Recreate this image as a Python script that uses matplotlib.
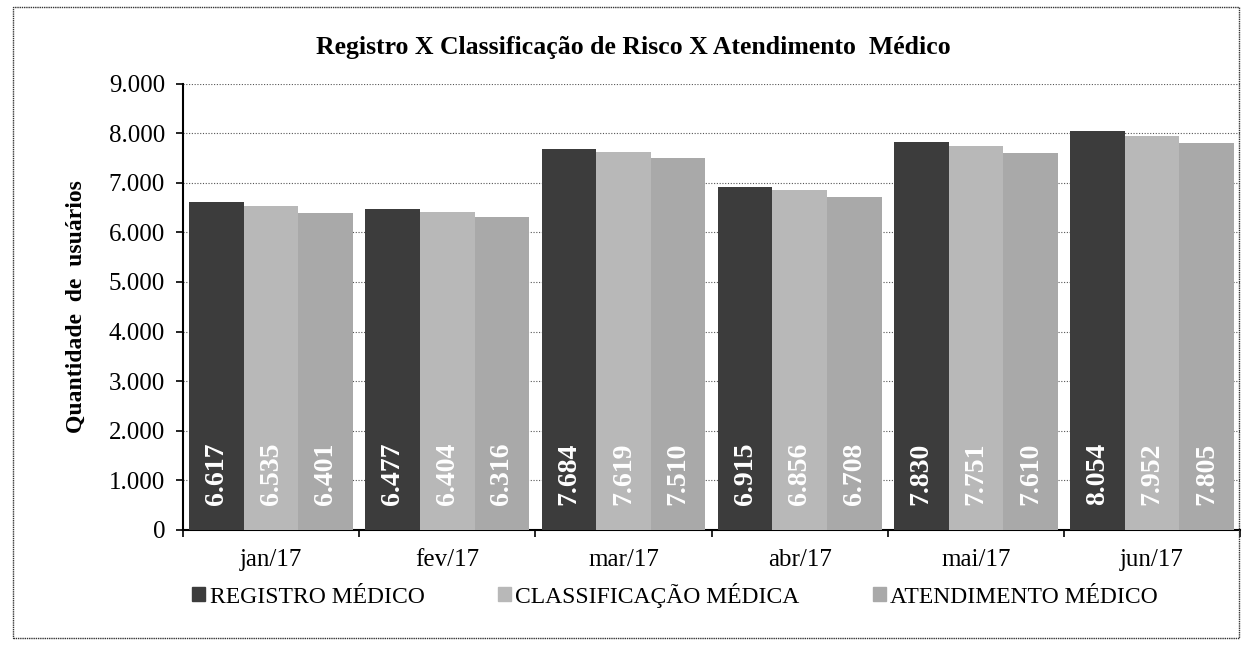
import matplotlib.pyplot as plt
import numpy as np
from matplotlib.patches import Rectangle
from matplotlib.ticker import FuncFormatter, FixedLocator

months = ["jan/17", "fev/17", "mar/17", "abr/17", "mai/17", "jun/17"]
registro = [6617, 6477, 7684, 6915, 7830, 8054]
classificacao = [6535, 6404, 7619, 6856, 7751, 7952]
atendimento = [6401, 6316, 7510, 6708, 7610, 7805]
series_names = ["REGISTRO MÉDICO", "CLASSIFICAÇÃO MÉDICA", "ATENDIMENTO MÉDICO"]

colors = ["#3c3c3c", "#b8b8b8", "#a9a9a9"]

plt.rcParams["font.family"] = ["Liberation Serif", "DejaVu Serif"]


def thousands(v, _pos=None):
    return f"{int(v):,}".replace(",", ".")


fig = plt.figure(figsize=(12.54, 6.54), dpi=100)
fig.patches.append(Rectangle((0.010, 0.024), 0.978, 0.966, transform=fig.transFigure,
                             fill=False, edgecolor="#333333", linewidth=1.0, linestyle=(0, (1, 0.6))))

ax = fig.add_axes([0.146, 0.19, 0.843, 0.682])
x = np.arange(len(months))
width = 0.31
offsets = [-width, 0, width]

for vals, off, col in zip([registro, classificacao, atendimento], offsets, colors):
    bars = ax.bar(x + off, vals, width, color=col, edgecolor="none", zorder=3)
    for b, v in zip(bars, vals):
        ax.text(b.get_x() + b.get_width() / 2, 500, thousands(v), rotation=90,
                ha="center", va="bottom", color="white", fontsize=20,
                fontweight="bold", zorder=4)

ax.set_xlim(-0.5, len(months) - 0.5)
ax.set_ylim(0, 9000)
ax.set_yticks(np.arange(0, 9001, 1000))
ax.yaxis.set_major_formatter(FuncFormatter(thousands))
ax.grid(axis="y", color="#555555", linestyle=(0, (1, 1.5)), linewidth=0.8, zorder=0)

ax.set_xticks(x)
ax.set_xticklabels(months)
ax.xaxis.set_minor_locator(FixedLocator(np.arange(-0.5, len(months), 1)))
ax.tick_params(axis="x", which="major", length=0, pad=14, labelsize=18)
ax.tick_params(axis="x", which="minor", length=5, width=1.2, direction="out")
ax.tick_params(axis="y", length=5, width=1.2, labelsize=18, pad=8)

for side in ["top", "right"]:
    ax.spines[side].set_visible(False)
ax.spines["left"].set_linewidth(1.5)
ax.spines["bottom"].set_linewidth(1.5)

ax.set_ylabel("Quantidade  de  usuários", fontsize=17, fontweight="bold", labelpad=16)
fig.text(0.505, 0.927, "Registro X Classificação de Risco X Atendimento  Médico",
         ha="center", va="center", fontsize=18.5, fontweight="bold")

handles = [Rectangle((0, 0), 1, 1, color=c) for c in colors]
fig.legend(handles, series_names, loc="center left", bbox_to_anchor=(0.136, 0.09),
           ncol=3, frameon=False, fontsize=17, handlelength=0.55, handleheight=0.55,
           handletextpad=0.2, columnspacing=3.1)

fig.savefig("out.png", dpi=100)
